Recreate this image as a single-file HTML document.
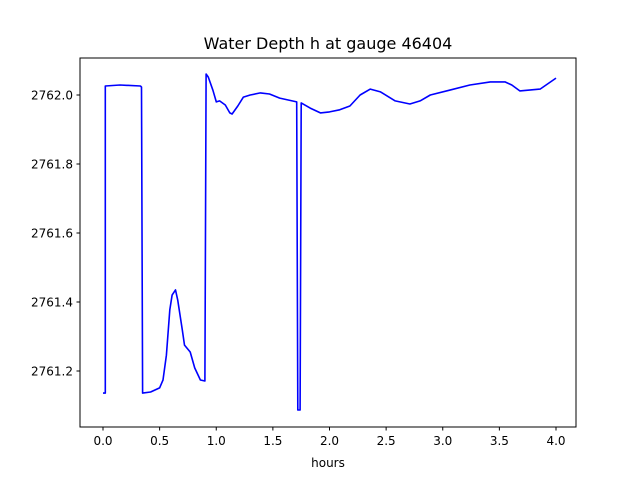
<!DOCTYPE html>
<html><head><meta charset="utf-8"><style>
body{margin:0;background:#fff}
svg text{font-family:"DejaVu Sans","Liberation Sans",sans-serif;fill:#000}
</style></head><body>
<svg width="640" height="480" xmlns="http://www.w3.org/2000/svg">
<rect width="640" height="480" fill="#fff"/>
<text x="328" y="49" font-size="16" text-anchor="middle">Water Depth h at gauge 46404</text>
<g id="ticks"></g>
<path id="series" fill="none" stroke="#0000ff" stroke-width="1.6" stroke-linejoin="round"/>
<rect x="80" y="58" width="496" height="369" fill="none" stroke="#000" stroke-width="1"/>
<text x="328" y="467" font-size="12" text-anchor="middle">hours</text>
</svg>
<script>
const hours=[0,0.02,0.02,0.15,0.33,0.34,0.35,0.42,0.5,0.53,0.56,0.59,0.61,0.64,0.66,0.70,0.72,0.77,0.81,0.86,0.90,0.91,0.93,0.97,1.0,1.03,1.08,1.12,1.14,1.19,1.24,1.30,1.39,1.47,1.56,1.71,1.72,1.74,1.75,1.83,1.92,2.0,2.09,2.18,2.27,2.36,2.45,2.58,2.71,2.80,2.89,3.06,3.24,3.42,3.55,3.61,3.68,3.86,4.0];
const depth=[2761.136,2761.136,2762.026,2762.029,2762.026,2762.023,2761.136,2761.139,2761.151,2761.174,2761.246,2761.377,2761.420,2761.435,2761.406,2761.319,2761.275,2761.255,2761.209,2761.174,2761.171,2762.061,2762.052,2762.014,2761.980,2761.983,2761.971,2761.948,2761.945,2761.968,2761.994,2762.0,2762.006,2762.003,2761.991,2761.980,2761.087,2761.087,2761.977,2761.962,2761.948,2761.951,2761.957,2761.968,2762.0,2762.017,2762.009,2761.983,2761.974,2761.983,2762.0,2762.014,2762.029,2762.038,2762.038,2762.029,2762.012,2762.017,2762.049];
const xTicks=[0,0.5,1,1.5,2,2.5,3,3.5,4];
const yTicks=[2761.2,2761.4,2761.6,2761.8,2762.0];
const sx=h=>103+h*113.25;
const sy=v=>95+(2762.0-v)*345;
document.getElementById('series').setAttribute('d',hours.map((h,i)=>(i?'L':'M')+sx(h).toFixed(1)+','+sy(depth[i]).toFixed(1)).join(''));
const g=document.getElementById('ticks');
const NS='http://www.w3.org/2000/svg';
xTicks.forEach(t=>{
  const l=document.createElementNS(NS,'line');
  l.setAttribute('x1',sx(t));l.setAttribute('x2',sx(t));l.setAttribute('y1',427);l.setAttribute('y2',430.5);l.setAttribute('stroke','#000');
  
  
  g.appendChild(l);
  const tx=document.createElementNS(NS,'text');
  tx.setAttribute('x',sx(t));tx.setAttribute('y',445);tx.setAttribute('font-size','12');tx.setAttribute('text-anchor','middle');
  tx.textContent=t.toFixed(1);
  
  
  g.appendChild(tx);
});
yTicks.forEach(t=>{
  const l=document.createElementNS(NS,'line');
  l.setAttribute('x1',76.5);l.setAttribute('x2',80);l.setAttribute('y1',sy(t));l.setAttribute('y2',sy(t));l.setAttribute('stroke','#000');
  
  
  g.appendChild(l);
  const tx=document.createElementNS(NS,'text');
  tx.setAttribute('x',73);tx.setAttribute('y',sy(t)+4.5);tx.setAttribute('font-size','12');tx.setAttribute('text-anchor','end');
  tx.textContent=t.toFixed(1);
  
  
  g.appendChild(tx);
});
</script>
</body></html>
